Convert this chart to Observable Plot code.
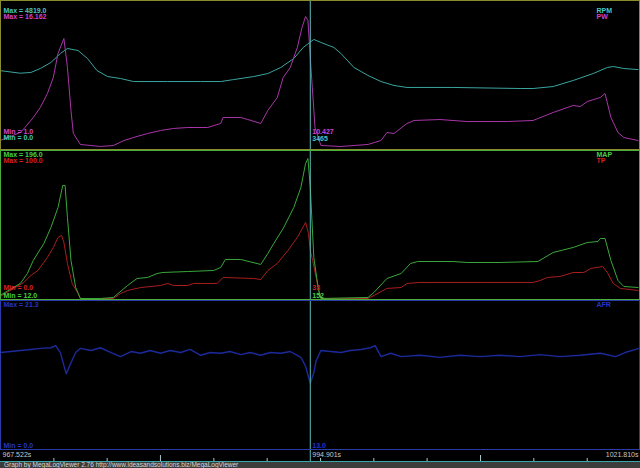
<!DOCTYPE html>
<html><head><meta charset="utf-8">
<script src="https://cdn.jsdelivr.net/npm/d3@7"></script>
<script src="https://cdn.jsdelivr.net/npm/@observablehq/plot@0.6"></script>
<style>
html,body{margin:0;padding:0;background:#000;overflow:hidden;width:640px;height:468px}
#chart svg,#axis svg{display:block}
#footer{height:6px;background:#3c3c3c;color:#d8d8d8;font:6.5px "Liberation Sans",Arial,sans-serif;line-height:6px;padding-left:4px;white-space:nowrap;overflow:hidden}
</style></head><body><div id="chart"></div><div id="axis"></div><div id="footer"></div>
<script>
// ---- time axis ----
const startTime = 967.522, endTime = 1021.81;
const cursorTime = 993.8;
const timeLabels = ["967.522s", "994.901s", "1021.810s"];
const smallTickTimes = [972.05, 976.57, 985.62, 990.14, 994.67, 999.19, 1003.71, 1012.76, 1017.29, 1021.81];
const bigTickTimes = [981.09, 1008.24];
const footerText = "Graph by MegaLogViewer 2.76 http://www.ideasandsolutions.biz/MegaLogViewer";

// ---- RPM ----
const rpmTime = [967.5,969.2,970.1,970.9,971.8,972.6,973.2,974.1,974.9,975.7,976.6,977.7,978.8,981.7,984.5,986.2,987.3,989.0,990.2,991.3,992.4,993.2,994.1,994.7,995.8,996.4,997.5,998.7,999.8,1000.9,1002.0,1005.9,1011.6,1012.7,1014.4,1016.1,1017.8,1019.0,1019.5,1020.4,1021.6];
const rpmValue = [2570,2485,2510,2640,2840,3135,3300,3235,2970,2575,2375,2310,2210,2210,2210,2210,2275,2375,2475,2675,2970,3335,3600,3500,3335,3135,2675,2410,2210,2080,2015,2015,1980,1980,2045,2245,2475,2675,2705,2640,2605];

// ---- PW ----
const pwTime = [967.5,969.2,969.6,970.3,970.9,971.5,972.0,972.4,972.9,973.2,973.5,973.7,974.3,976.0,977.1,978.0,978.8,980.0,981.1,982.2,983.4,985.1,986.2,986.4,987.9,988.5,989.6,990.2,991.0,991.5,992.1,992.7,993.1,993.4,993.6,993.8,994.2,994.7,996.4,998.7,999.8,1000.3,1000.9,1002.0,1002.6,1004.8,1007.1,1010.5,1012.7,1014.4,1016.1,1016.7,1017.3,1018.4,1018.8,1019.3,1019.9,1020.4,1021.6];
const pwValue = [1.83,2.66,3.18,4.22,5.26,6.71,8.37,10.87,12.42,9.41,4.95,2.56,1.42,1.21,1.31,1.83,2.14,2.56,2.87,3.08,3.18,3.18,3.60,4.22,4.22,4.01,3.60,4.95,6.30,8.37,9.41,11.49,13.57,14.71,14.29,10.43,3.18,1.31,1.21,1.42,1.83,2.66,2.56,3.60,3.91,4.01,3.80,3.80,3.91,4.74,5.47,5.36,5.88,6.30,6.71,4.22,2.66,2.14,1.83];

// ---- MAP ----
const mapTime = [967.5,969.2,969.8,970.3,971.2,971.8,972.4,972.8,973.0,973.2,973.5,973.9,974.3,976.0,977.1,978.3,979.1,980.0,980.8,981.3,983.4,985.6,986.2,986.6,987.9,989.6,990.2,990.7,991.5,992.4,993.0,993.4,993.6,993.8,994.1,994.5,994.7,998.7,999.2,1000.3,1001.5,1002.3,1002.9,1005.9,1007.1,1009.9,1013.1,1014.4,1016.1,1017.3,1018.2,1018.4,1018.8,1019.3,1019.9,1020.4,1021.6];
const mapValue = [16,30.9,43.5,59.9,81.3,101.5,126.7,154.4,154.4,114.1,59.9,25.9,12,12,13.3,28.4,37.2,38.5,43.5,44.8,46.0,47.3,51.1,61.2,61.2,54.9,68.7,81.3,100.2,126.7,151.9,182.1,188.4,152,63.7,22.1,12,13.3,19.6,37.2,43.5,56.1,58.6,58.6,57.4,57.4,58.6,70.0,76.3,82.6,83.8,87.6,87.6,59.9,34.7,27.1,25.9];

// ---- TP ----
const tpTime = [967.5,969.5,970.1,970.7,971.5,972.0,972.4,972.7,972.9,973.2,973.6,974.1,974.3,977.1,977.7,978.3,979.4,981.1,981.7,982.2,983.4,983.9,985.9,986.4,989.0,989.6,990.2,991.0,991.9,992.7,993.4,993.65,993.8,994.0,994.4,994.7,998.7,999.5,1000.3,1001.5,1002.0,1003.1,1008.2,1012.7,1013.3,1013.9,1015.0,1016.1,1017.0,1017.6,1018.6,1019.0,1019.5,1020.1,1021.6];
const tpValue = [1.4,11.0,15.8,19.2,28.1,34.9,41.8,43.2,38.4,24.0,10.3,3.4,0,0,3.4,5.5,7.5,8.9,10.3,8.9,8.9,10.3,10.3,14.4,13.7,13.0,19.2,24.0,32.9,41.8,52.1,44.5,32.9,26.0,10.3,0,0,3.4,6.9,7.5,10.3,11.0,11.0,11.0,12.3,14.4,15.1,17.8,17.8,20.6,21.9,17.8,10.3,6.9,5.5];

// ---- AFR ----
const afrTime = [967.5,968.4,969.2,970.1,970.9,971.8,972.2,972.6,972.9,973.1,973.5,973.9,974.3,975.2,976.0,976.9,977.7,978.6,979.4,980.2,981.1,981.9,982.8,983.6,984.5,985.3,986.2,987.0,987.9,988.7,989.6,990.4,991.3,992.1,993.0,993.4,993.6,993.8,994.1,994.3,994.7,995.5,996.4,997.2,998.1,998.9,999.3,999.8,1000.6,1001.5,1003.1,1004.8,1006.5,1008.2,1009.9,1011.6,1013.3,1015.0,1016.7,1018.4,1019.7,1020.5,1021.7];
const afrValue = [14.0,14.15,14.3,14.45,14.6,14.7,15.0,14.0,12.1,10.9,12.5,14.0,14.6,14.3,14.7,14.0,13.4,14.15,13.9,14.3,13.9,14.3,14.0,14.45,13.6,14.0,13.9,14.15,13.7,14.0,13.6,14.0,13.9,14.15,13.3,12.0,10.7,9.5,11.1,12.8,14.3,14.15,14.0,14.3,14.45,14.7,15.0,13.4,13.9,13.4,13.6,13.3,13.6,13.4,13.6,13.4,13.7,13.4,13.6,13.9,13.4,14.0,14.6];

// ---- panels & series settings ----
const panelNames = ["engine", "load", "afr"];
const panelBase = [2, 1, 0];
const panelBorder = ["#8a8a2e", "#4cae3a", "#2a3aa8"];

const series = [
  {name: "RPM", panel: 0, min: 0, max: 4819, color: "#3aa59f", time: rpmTime, value: rpmValue},
  {name: "PW", panel: 0, min: 1, max: 16.162, color: "#a836a8", time: pwTime, value: pwValue},
  {name: "TP", panel: 1, min: 0, max: 100, color: "#a81e1e", time: tpTime, value: tpValue},
  {name: "MAP", panel: 1, min: 12, max: 196, color: "#3aa83a", time: mapTime, value: mapValue},
  {name: "AFR", panel: 2, min: 0, max: 21.3, color: "#1c2a9c", time: afrTime, value: afrValue}
];

// label rows: text, colour, panel, where, edge, dy
const labels = [
  ["Max = 4819.0", "#46c8c0", 0, "left", "top", 10.5],
  ["Max = 16.162", "#d044d0", 0, "left", "top", 16.5],
  ["RPM", "#46c8c0", 0, "right", "top", 10.5],
  ["PW", "#d044d0", 0, "right", "top", 16.5],
  ["Min = 1.0", "#d044d0", 0, "left", "bottom", -18.3],
  ["Min = 0.0", "#46c8c0", 0, "left", "bottom", -12.3],
  ["10.427", "#d044d0", 0, "cursor", "bottom", -18.3],
  ["3465", "#46c8c0", 0, "cursor", "bottom", -12.0],
  ["Max = 196.0", "#44d044", 1, "left", "top", 4.7],
  ["Max = 100.0", "#d42020", 1, "left", "top", 10.7],
  ["MAP", "#44d044", 1, "right", "top", 4.7],
  ["TP", "#d42020", 1, "right", "top", 10.7],
  ["Min = 0.0", "#d42020", 1, "left", "bottom", -12.7],
  ["Min = 12.0", "#44d044", 1, "left", "bottom", -5],
  ["33", "#d42020", 1, "cursor", "bottom", -12.7],
  ["152", "#44d044", 1, "cursor", "bottom", -5],
  ["Max = 21.3", "#2434c8", 2, "left", "top", 4],
  ["AFR", "#2434c8", 2, "right", "top", 4],
  ["Min = 0.0", "#2434c8", 2, "left", "bottom", -5],
  ["13.0", "#2434c8", 2, "cursor", "bottom", -5]
];

const pad = 2 / 150;
const rows = series.flatMap(s => s.time.map((t, i) => ({
  series: s.name, t, color: s.color,
  y: panelBase[s.panel] + pad + (s.value[i] - s.min) / (s.max - s.min) * (1 - 2 * pad)
})));
const panelRows = panelNames.map((n, i) => ({name: n, base: panelBase[i], border: panelBorder[i]}));

const font = {fontSize: 7, fontWeight: "bold", fontFamily: "'Liberation Sans', Arial, sans-serif"};
const labelMarks = labels.map(([text, color, panel, where, edge, dy]) => {
  const d = [{text, color, y: edge === "top" ? panelBase[panel] + 1 : panelBase[panel]}];
  const opts = {y: "y", text: "text", fill: "color", textAnchor: "start", dy, ...font};
  if (where === "left") return Plot.text(d, {...opts, frameAnchor: "left", dx: 3});
  if (where === "right") return Plot.text(d, {...opts, frameAnchor: "right", dx: -44});
  return Plot.text(d, {...opts, x: () => cursorTime, dx: 2});
});

const main = Plot.plot({
  width: 640, height: 450,
  marginTop: 0, marginRight: 0, marginBottom: 0, marginLeft: 0,
  style: {background: "#000"},
  x: {domain: [startTime, endTime], axis: null},
  y: {domain: [0, 3], axis: null},
  color: {type: "identity"},
  marks: [
    Plot.line(rows, {x: "t", y: "y", z: "series", stroke: "color", strokeWidth: d => d.series === "AFR" ? 1.4 : 1, clip: true}),
    ...labelMarks,
    Plot.ruleX([cursorTime], {stroke: "#5cbcbc", strokeWidth: 1}),
    Plot.rect(panelRows, {y1: "base", y2: d => d.base + 1, stroke: "border", fill: "none", strokeWidth: 1, inset: 0.5})
  ]
});
document.getElementById("chart").appendChild(main);

const axisFont = {fontSize: 7, fontFamily: "'Liberation Sans', Arial, sans-serif", fill: "#c8c8c8"};
const axis = Plot.plot({
  width: 640, height: 12,
  marginTop: 0, marginRight: 0, marginBottom: 1, marginLeft: 0,
  style: {background: "#000"},
  x: {domain: [startTime, endTime], axis: null},
  y: {domain: [0, 1], axis: null},
  marks: [
    Plot.tickX(smallTickTimes, {x: d => d, stroke: "#a8c8c8", insetTop: 8}),
    Plot.tickX(bigTickTimes, {x: d => d, stroke: "#a8c8c8", insetTop: 5}),
    Plot.ruleX([cursorTime], {stroke: "#5cbcbc"}),
    Plot.ruleY([0], {stroke: "#3aa6a6"}),
    Plot.text([timeLabels[0]], {text: d => d, frameAnchor: "left", dx: 2, dy: -1, textAnchor: "start", ...axisFont}),
    Plot.text([timeLabels[1]], {text: d => d, x: () => cursorTime, dx: 2, dy: -1, textAnchor: "start", frameAnchor: "middle", ...axisFont}),
    Plot.text([timeLabels[2]], {text: d => d, frameAnchor: "right", dx: -2, dy: -1, textAnchor: "end", ...axisFont})
  ]
});
document.getElementById("axis").appendChild(axis);
document.getElementById("footer").textContent = footerText;
</script></body></html>
